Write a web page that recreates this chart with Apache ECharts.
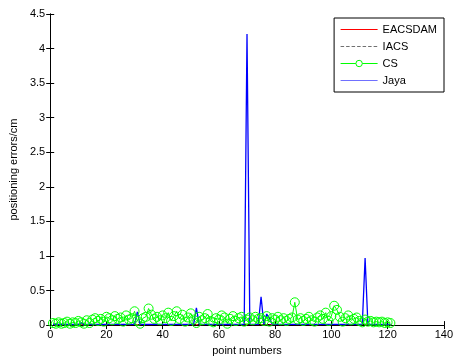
<!DOCTYPE html>
<html>
<head>
<meta charset="utf-8">
<script src="https://cdn.jsdelivr.net/npm/echarts@6/dist/echarts.min.js"></script>
<style>html,body{margin:0;padding:0;background:#fff}#c{width:456px;height:361px}</style>
</head>
<body>
<div id="c"></div>
<script>
const xTicks = [0, 20, 40, 60, 80, 100, 120, 140];
const yTicks = [0, 0.5, 1, 1.5, 2, 2.5, 3, 3.5, 4, 4.5];
const seriesNames = ['EACSDAM', 'IACS', 'CS', 'Jaya'];

const eacsdam = [
0.006,0.004,0.007,0.005,0.006,0.004,0.008,0.005,0.006,0.004,
0.007,0.005,0.006,0.004,0.008,0.005,0.006,0.007,0.004,0.006,
0.005,0.007,0.004,0.006,0.005,0.008,0.004,0.006,0.005,0.007,
0.006,0.004,0.007,0.005,0.006,0.004,0.008,0.005,0.006,0.004,
0.007,0.005,0.006,0.004,0.008,0.005,0.006,0.007,0.004,0.006,
0.005,0.007,0.004,0.006,0.005,0.008,0.004,0.006,0.005,0.007,
0.006,0.004,0.007,0.005,0.006,0.004,0.008,0.005,0.006,0.004,
0.007,0.005,0.006,0.004,0.008,0.005,0.006,0.007,0.004,0.006,
0.005,0.007,0.004,0.006,0.005,0.008,0.004,0.006,0.005,0.007,
0.006,0.004,0.007,0.005,0.006,0.004,0.008,0.005,0.006,0.004,
0.007,0.005,0.006,0.004,0.008,0.005,0.006,0.007,0.004,0.006,
0.005,0.007,0.004,0.006,0.005,0.008,0.004,0.006,0.005,0.007,0.006];

const iacs = [
0.008,0.006,0.009,0.007,0.008,0.006,0.010,0.007,0.008,0.006,
0.009,0.007,0.008,0.006,0.010,0.007,0.008,0.009,0.006,0.008,
0.007,0.009,0.006,0.008,0.007,0.010,0.006,0.008,0.007,0.009,
0.008,0.006,0.009,0.007,0.008,0.006,0.010,0.007,0.008,0.006,
0.009,0.007,0.008,0.006,0.010,0.007,0.008,0.009,0.006,0.008,
0.007,0.009,0.006,0.008,0.007,0.010,0.006,0.008,0.007,0.009,
0.008,0.006,0.009,0.007,0.008,0.006,0.010,0.007,0.008,0.006,
0.009,0.007,0.008,0.006,0.010,0.007,0.008,0.009,0.006,0.008,
0.007,0.009,0.006,0.008,0.007,0.010,0.006,0.008,0.007,0.009,
0.008,0.006,0.009,0.007,0.008,0.006,0.010,0.007,0.008,0.006,
0.009,0.007,0.008,0.006,0.010,0.007,0.008,0.009,0.006,0.008,
0.007,0.009,0.006,0.008,0.007,0.010,0.006,0.008,0.007,0.009,0.008];

const cs = [
0.03,0.02,0.04,0.02,0.03,0.05,0.02,0.04,0.03,0.06,
0.04,0.02,0.07,0.03,0.08,0.10,0.06,0.09,0.05,0.12,
0.10,0.07,0.13,0.09,0.11,0.05,0.14,0.08,0.10,0.20,
0.06,0.02,0.10,0.12,0.24,0.15,0.09,0.12,0.07,0.14,
0.10,0.18,0.06,0.13,0.20,0.09,0.15,0.05,0.11,0.17,
0.08,0.03,0.12,0.07,0.10,0.16,0.06,0.04,0.10,0.08,
0.14,0.11,0.02,0.09,0.13,0.06,0.10,0.12,0.05,0.08,
0.11,0.07,0.12,0.09,0.10,0.06,0.13,0.05,0.10,0.08,
0.12,0.07,0.10,0.06,0.09,0.11,0.33,0.08,0.10,0.06,
0.09,0.12,0.07,0.05,0.11,0.14,0.09,0.18,0.06,0.13,
0.28,0.22,0.12,0.05,0.10,0.14,0.07,0.09,0.11,0.06,
0.04,0.08,0.05,0.06,0.04,0.05,0.04,0.05,0.03,0.04,0.03];

const jaya = [
0.01,0.01,0.01,0.01,0.01,0.01,0.01,0.01,0.01,0.01,
0.03,0.01,0.01,0.01,0.01,0.01,0.01,0.01,0.01,0.01,
0.01,0.01,0.01,0.01,0.01,0.01,0.01,0.01,0.01,0.01,
0.19,0.01,0.01,0.01,0.01,0.01,0.01,0.01,0.01,0.01,
0.01,0.01,0.01,0.01,0.01,0.01,0.01,0.01,0.01,0.01,
0.01,0.25,0.01,0.01,0.01,0.01,0.01,0.01,0.01,0.01,
0.01,0.01,0.01,0.01,0.01,0.01,0.01,0.01,0.01,4.21,
0.01,0.01,0.01,0.01,0.41,0.01,0.16,0.10,0.01,0.01,
0.01,0.01,0.01,0.01,0.01,0.01,0.01,0.01,0.01,0.01,
0.01,0.01,0.01,0.01,0.01,0.01,0.01,0.01,0.01,0.01,
0.01,0.01,0.01,0.01,0.01,0.01,0.01,0.01,0.01,0.01,
0.01,0.97,0.01,0.01,0.01,0.01,0.01,0.01,0.01,0.01,0.01];

const pts = (arr) => arr.map((v, i) => [i + 1, v]);
const font = 'Liberation Sans, Arial, sans-serif';

// legend icon shapes (plain horizontal strokes)
const solidIcon = 'path://M0,0H37V1.2H0Z';
let dash = '';
for (let x = 0; x < 37; x += 5.5) dash += 'M' + x + ',0H' + Math.min(x + 3.5, 37) + 'V1.2H' + x + 'Z';
const dashIcon = 'path://' + dash + 'M36.9,0H37V1.2H36.9Z';

const chart = echarts.init(document.getElementById('c'));
const axisCommon = {
  axisLine: { show: true, lineStyle: { color: '#000', width: 1 } },
  axisTick: { show: true, inside: true, length: 4, lineStyle: { color: '#000' } },
  splitLine: { show: false }
};
chart.setOption({
  animation: false,
  backgroundColor: '#fff',
  grid: { left: 48, right: 10, top: 14, bottom: 33 },
  legend: {
    orient: 'vertical',
    right: 12,
    top: 18,
    data: [
      { name: 'EACSDAM', icon: solidIcon, itemStyle: { color: '#ff0000', borderWidth: 0 } },
      { name: 'IACS', icon: dashIcon, itemStyle: { color: '#707070', borderWidth: 0 } },
      { name: 'CS', itemStyle: { color: '#fff', borderColor: '#00ff00', borderWidth: 1 },
        lineStyle: { color: '#00ff00', width: 1 } },
      { name: 'Jaya', icon: solidIcon, itemStyle: { color: '#7070ff', borderWidth: 0 } }
    ],
    itemWidth: 37,
    itemHeight: 8,
    itemGap: 4,
    padding: [5, 7, 5, 6],
    borderColor: '#000',
    borderWidth: 1,
    backgroundColor: '#fff',
    textStyle: { fontFamily: font, fontSize: 11, color: '#000', lineHeight: 13 }
  },
  xAxis: [
    Object.assign({}, axisCommon, {
      type: 'value', min: 0, max: 140, interval: 20,
      name: 'point numbers', nameLocation: 'middle', nameGap: 18,
      nameTextStyle: { fontFamily: font, fontSize: 11, color: '#000' },
      axisLabel: { fontFamily: font, fontSize: 11, color: '#000', margin: 4,
        formatter: (v) => xTicks.includes(v) ? String(v) : '' }
    }),
    Object.assign({}, axisCommon, {
      type: 'value', min: 0, max: 140, interval: 20, position: 'top',
      axisLabel: { show: false }
    })
  ],
  yAxis: [
    Object.assign({}, axisCommon, {
      type: 'value', min: 0, max: 4.5, interval: 0.5,
      name: 'positioning errors/cm', nameLocation: 'middle', nameGap: 31,
      nameTextStyle: { fontFamily: font, fontSize: 11, color: '#000' },
      axisLabel: { fontFamily: font, fontSize: 11, color: '#000', margin: 5,
        formatter: (v) => yTicks.includes(v) ? String(v) : '' }
    }),
    Object.assign({}, axisCommon, {
      type: 'value', min: 0, max: 4.5, interval: 0.5, position: 'right',
      axisLabel: { show: false }
    })
  ],
  series: [
    { name: 'EACSDAM', type: 'line', data: pts(eacsdam), symbol: 'none',
      lineStyle: { color: '#ff0000', width: 1 }, itemStyle: { color: '#ff0000' } },
    { name: 'IACS', type: 'line', data: pts(iacs), symbol: 'none',
      lineStyle: { color: '#000', width: 1, type: [3, 2] }, itemStyle: { color: '#555' } },
    { name: 'CS', type: 'line', data: pts(cs), symbol: 'circle', symbolSize: 9,
      lineStyle: { color: '#00ff00', width: 1 },
      itemStyle: { color: 'rgba(0,0,0,0)', borderColor: '#00ff00', borderWidth: 1 } },
    { name: 'Jaya', type: 'line', data: pts(jaya), symbol: 'none',
      lineStyle: { color: '#0000ff', width: 1.3 }, itemStyle: { color: '#0000ff' } }
  ]
});
</script>
</body>
</html>
